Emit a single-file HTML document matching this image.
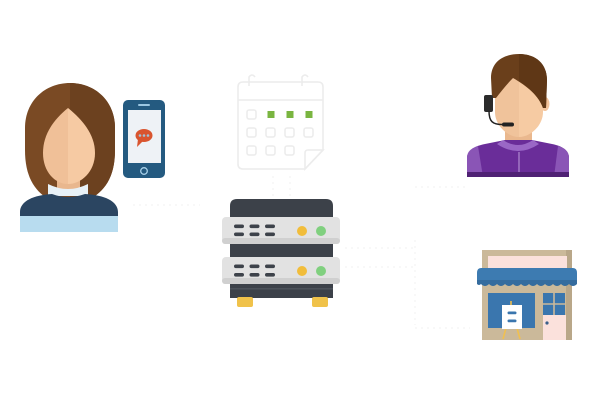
<!DOCTYPE html>
<html><head><meta charset="utf-8"><style>
html,body{margin:0;padding:0;background:#fff;width:600px;height:400px;overflow:hidden;font-family:"Liberation Sans",sans-serif}
svg{display:block}
</style></head><body>
<svg width="600" height="400" viewBox="0 0 600 400" xmlns="http://www.w3.org/2000/svg">
<rect width="600" height="400" fill="#fff"/>
<!-- faint connectors -->
<g stroke="#f5f5f5" stroke-width="1.5" stroke-dasharray="2 4" fill="none">
<line x1="133" y1="205" x2="200" y2="205"/>
<line x1="273" y1="176" x2="273" y2="200"/>
<line x1="290" y1="176" x2="290" y2="200"/>
<line x1="345" y1="248" x2="415" y2="248"/>
<line x1="345" y1="267" x2="415" y2="267"/>
<line x1="415" y1="187" x2="465" y2="187"/>
<line x1="415" y1="328" x2="470" y2="328"/>
<line x1="415" y1="240" x2="415" y2="325"/>
</g>

<!-- Woman -->
<path d="M48,199 C34,190 25,176 25,150 L25,128 C25,101 45,83 70,83 C95,83 115,101 115,128 L115,150 C115,178 104,192 88,200 Z" fill="#7a4a24"/>
<path d="M70,83 C95,83 115,101 115,128 L115,150 C115,178 104,192 88,200 L70,200 Z" fill="#6c411f"/>
<rect x="57" y="170" width="23" height="22" fill="#e9b78e"/>
<path d="M48,184 Q68,194 88,184 L88,196 L48,196 Z" fill="#e8f1f7"/>
<path d="M20,232 L20,212 C20,201 34,195 52,194 Q68,200 85,194 C104,195 118,201 118,212 L118,232 Z" fill="#2b4561"/>
<rect x="20" y="216" width="98" height="16" fill="#b8dcef"/>
<path d="M68,108 C53,120 43,135 43,153 C43,172 55,184 68,184 Z" fill="#f0c098"/>
<path d="M68,108 C83,120 95,135 95,153 C95,172 81,184 68,184 Z" fill="#f6caa3"/>

<!-- Phone -->
<rect x="123" y="100" width="42" height="78" rx="5" fill="#245a80"/>
<rect x="128" y="110" width="33" height="53" fill="#eef2f6"/>
<rect x="138" y="104" width="12" height="2" rx="1" fill="#9cc7e2"/>
<circle cx="144" cy="171" r="3.3" fill="none" stroke="#a9d2ea" stroke-width="1.3"/>
<ellipse cx="144" cy="135.5" rx="8.5" ry="6.5" fill="#d9552f"/>
<path d="M138,139 L137,147 L143,141 Z" fill="#d9552f"/>
<circle cx="140" cy="135.5" r="1.3" fill="#9fc4d8"/>
<circle cx="144" cy="135.5" r="1.3" fill="#9fc4d8"/>
<circle cx="148" cy="135.5" r="1.3" fill="#9fc4d8"/>

<!-- Calendar -->
<g stroke="#ececec" stroke-width="1.6" fill="none">
<path d="M323,150 L323,87 Q323,82 318,82 L243,82 Q238,82 238,87 L238,164 Q238,169 243,169 L305,169 Z"/>
<path d="M305,169 L323,150 L308,150 Q305,150 305,153 Z"/>
<line x1="238" y1="100" x2="323" y2="100"/>
<path d="M249,86 L249,77 Q252,73 255,77"/>
<path d="M302,86 L302,77 Q305,73 308,77"/>
<rect x="247" y="110" width="9" height="9" rx="2"/>
<rect x="247" y="128" width="9" height="9" rx="2"/>
<rect x="266" y="128" width="9" height="9" rx="2"/>
<rect x="285" y="128" width="9" height="9" rx="2"/>
<rect x="304" y="128" width="9" height="9" rx="2"/>
<rect x="247" y="146" width="9" height="9" rx="2"/>
<rect x="266" y="146" width="9" height="9" rx="2"/>
<rect x="285" y="146" width="9" height="9" rx="2"/>
</g>
<rect x="267.5" y="111" width="7" height="7" fill="#7ab540"/>
<rect x="286.5" y="111" width="7" height="7" fill="#7ab540"/>
<rect x="305.5" y="111" width="7" height="7" fill="#7ab540"/>

<!-- Server -->
<path d="M230,298 L230,206 Q230,199 237,199 L326,199 Q333,199 333,206 L333,298 Z" fill="#3c4149"/>
<rect x="230" y="288" width="103" height="1.5" fill="#4c525a"/>
<rect x="222" y="217" width="118" height="27" rx="4" fill="#e2e2e2"/>
<rect x="222" y="238" width="118" height="6" rx="3" fill="#d0d0d0"/>
<rect x="222" y="257" width="118" height="27" rx="4" fill="#e2e2e2"/>
<rect x="222" y="278" width="118" height="6" rx="3" fill="#d0d0d0"/>
<g fill="#3d424a">
<rect x="234" y="224.5" width="10" height="3.6" rx="1.8"/><rect x="249.5" y="224.5" width="10" height="3.6" rx="1.8"/><rect x="265" y="224.5" width="10" height="3.6" rx="1.8"/>
<rect x="234" y="232.5" width="10" height="3.6" rx="1.8"/><rect x="249.5" y="232.5" width="10" height="3.6" rx="1.8"/><rect x="265" y="232.5" width="10" height="3.6" rx="1.8"/>
<rect x="234" y="264.5" width="10" height="3.6" rx="1.8"/><rect x="249.5" y="264.5" width="10" height="3.6" rx="1.8"/><rect x="265" y="264.5" width="10" height="3.6" rx="1.8"/>
<rect x="234" y="273" width="10" height="3.6" rx="1.8"/><rect x="249.5" y="273" width="10" height="3.6" rx="1.8"/><rect x="265" y="273" width="10" height="3.6" rx="1.8"/>
</g>
<circle cx="302" cy="231" r="5" fill="#f1bd3b"/>
<circle cx="321" cy="231" r="5" fill="#80d07f"/>
<circle cx="302" cy="271" r="5" fill="#f1bd3b"/>
<circle cx="321" cy="271" r="5" fill="#80d07f"/>
<rect x="237" y="297" width="16" height="10" rx="2" fill="#f0c24a"/>
<rect x="312" y="297" width="16" height="10" rx="2" fill="#f0c24a"/>

<!-- Agent -->
<rect x="505" y="126" width="27" height="22" fill="#eab88e"/>
<path d="M467,177 L467,158 C467,150 475,146 485,144 L505,140 L532,140 L552,144 C562,146 569,150 569,158 L569,177 Z" fill="#6a2d99"/>
<path d="M467,177 L467,158 C467,151 472,148 478,146 L483,177 Z" fill="#8a55b6"/>
<path d="M569,177 L569,158 C569,151 564,148 558,146 L554,177 Z" fill="#8a55b6"/>
<path d="M503,140 Q518,150 533,140 L539,144 Q518,158 497,144 Z" fill="#9a67c6"/>
<line x1="519" y1="152" x2="519" y2="173" stroke="#c9abe2" stroke-width="0.9"/>
<rect x="467" y="172" width="102" height="5" fill="#4f2174"/>
<ellipse cx="545" cy="104" rx="4.5" ry="7" fill="#f2c39b"/>
<path d="M495,92 C495,80 505,74 519,74 L519,137 C508,137 495,126 495,112 Z" fill="#f0c39b"/>
<path d="M519,74 C534,74 543,82 543,92 L543,112 C543,126 530,137 519,137 Z" fill="#f6cba3"/>
<path d="M492,98 L491,78 C491,62 503,54 519,54 C536,54 547,64 547,80 L546,108 L543,108 C539,96 527,86 513,78 C508,83 502,90 496,98 Z" fill="#6a3f1b"/>
<path d="M519,54 C536,54 547,64 547,80 L546,108 L543,108 C539,96 527,86 519,81 Z" fill="#5f3716"/>
<rect x="484" y="95" width="9" height="17" rx="2" fill="#2b2b2b"/>
<path d="M489,111 C489,121 492,125 504,124.5" fill="none" stroke="#222" stroke-width="1.5"/>
<rect x="502" y="122.5" width="12" height="4" rx="2" fill="#222"/>

<!-- Shop -->
<rect x="482" y="250" width="90" height="90" fill="#cbb99a"/>
<rect x="566" y="250" width="6" height="90" fill="#b9a789"/>
<rect x="488" y="256" width="79" height="12" fill="#fbe1dc"/>
<path d="M481,268 L573,268 Q577,268 577,273 L577,284 L477,284 L477,273 Q477,268 481,268 Z" fill="#3d7bb1"/>
<path d="M477,280 L577,280 L577,284 Q573,288 569,284 Q565,288 561,284 Q557,288 553,284 Q549,288 545,284 Q541,288 537,284 Q533,288 529,284 Q525,288 521,284 Q517,288 513,284 Q509,288 505,284 Q501,288 497,284 Q493,288 489,284 Q485,288 481,284 Q479,286 477,284 Z" fill="#356c9e"/>
<rect x="488" y="293" width="47" height="35" fill="#3a76ae"/>
<rect x="543" y="293" width="22" height="22" fill="#3a76ae"/>
<line x1="554" y1="293" x2="554" y2="315" stroke="#cbb99a" stroke-width="1.6"/>
<line x1="543" y1="304" x2="565" y2="304" stroke="#cbb99a" stroke-width="1.6"/>
<rect x="543" y="315" width="23" height="25" fill="#fbe1dc"/>
<circle cx="547" cy="323" r="1.6" fill="#3a5f8a"/>
<g stroke="#f0c050" stroke-width="1.6">
<line x1="511" y1="301" x2="511" y2="306"/>
<line x1="506" y1="328" x2="503" y2="339"/>
<line x1="517" y1="328" x2="520" y2="339"/>
</g>
<rect x="502" y="305" width="20" height="24" fill="#ffffff"/>
<rect x="507.5" y="311.5" width="9" height="2.8" rx="1.4" fill="#3a76ae"/>
<rect x="507.5" y="319.5" width="9" height="2.8" rx="1.4" fill="#3a76ae"/>
</svg>
</body></html>
